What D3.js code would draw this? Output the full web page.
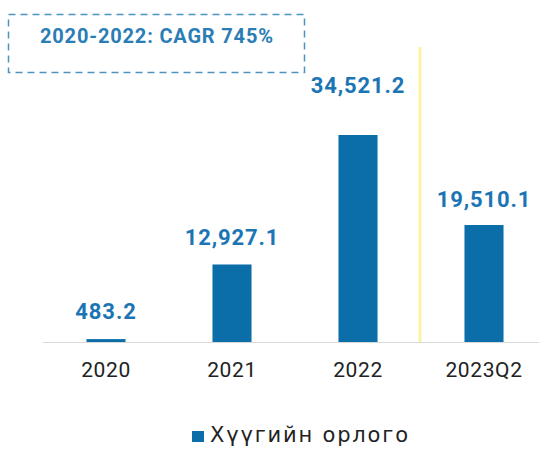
<!DOCTYPE html>
<html>
<head>
<meta charset="utf-8">
<script src="https://cdn.jsdelivr.net/npm/d3@7"></script>
<style>
  body { margin: 0; background: #fff; }
  text { font-family: Roboto, "Open Sans", sans-serif; }
</style>
</head>
<body>
<svg id="chart" width="539" height="452"></svg>
<script>
// data
const categories = ["2020", "2021", "2022", "2023Q2"];
const values = [483.2, 12927.1, 34521.2, 19510.1];
const valueLabels = ["483.2", "12,927.1", "34,521.2", "19,510.1"];
const seriesName = "Хүүгийн орлого";
const noteText = "2020-2022: CAGR 745%";

const svg = d3.select("#chart");
const baseY = 342;
const barColor = "#0b6ea8";
const labelColor = "#1b75b5";

const x = d3.scaleBand()
    .domain(categories)
    .range([43, 547])
    .paddingInner(0.69)
    .paddingOuter(0.345);

const y = d3.scaleLinear()
    .domain([0, 34521.2])
    .range([baseY, 135]);

// the tallest label sits higher in the original
const labelGap = [20, 19.5, 42, 18.5];

// separator line between annual and quarterly data
svg.append("line")
    .attr("x1", 420).attr("x2", 420)
    .attr("y1", 47).attr("y2", baseY)
    .attr("stroke", "#fbf3a6")
    .attr("stroke-width", 3);

// baseline
svg.append("line")
    .attr("x1", 43).attr("x2", 539)
    .attr("y1", baseY + 0.5).attr("y2", baseY + 0.5)
    .attr("stroke", "#d9d9d9")
    .attr("stroke-width", 1);

// bars
svg.selectAll("rect.bar")
    .data(values)
    .join("rect")
    .attr("class", "bar")
    .attr("x", (d, i) => x(categories[i]))
    .attr("width", x.bandwidth())
    .attr("y", d => Math.min(y(d), baseY - 2))
    .attr("height", d => Math.max(2, baseY - y(d)))
    .attr("fill", barColor);

// value labels
svg.selectAll("text.val")
    .data(values)
    .join("text")
    .attr("class", "val")
    .attr("x", (d, i) => x(categories[i]) + x.bandwidth() / 2)
    .attr("y", (d, i) => y(d) - labelGap[i])
    .attr("text-anchor", "middle")
    .attr("font-size", 22)
    .attr("font-weight", "bold")
    .attr("letter-spacing", 0.9)
    .attr("fill", labelColor)
    .text((d, i) => valueLabels[i]);

// x axis labels
const xAxis = d3.axisBottom(x).tickSize(0).tickPadding(0);
const gx = svg.append("g")
    .attr("transform", `translate(0,${baseY})`)
    .call(xAxis);
gx.select(".domain").remove();
gx.selectAll("text")
    .attr("y", 35)
    .attr("dy", 0)
    .attr("font-size", 21)
    .attr("letter-spacing", 0.6)
    .attr("fill", "#222");

// dashed note box
svg.append("rect")
    .attr("x", 8.5).attr("y", 14.5)
    .attr("width", 296).attr("height", 58)
    .attr("fill", "none")
    .attr("stroke", "#4d93bd")
    .attr("stroke-width", 1.5)
    .attr("stroke-dasharray", "7,5");

svg.append("text")
    .attr("x", 40)
    .attr("y", 43)
    .attr("font-size", 20)
    .attr("font-weight", "bold")
    .attr("fill", "#2a7db5")
    .attr("textLength", 233)
    .attr("lengthAdjust", "spacing")
    .text(noteText);

// legend
const legend = svg.append("g").attr("transform", "translate(192,431)");
legend.append("rect")
    .attr("width", 12).attr("height", 11)
    .attr("fill", barColor);
legend.append("text")
    .attr("x", 18)
    .attr("y", 11)
    .attr("font-size", 21)
    .style("font-family", "'DejaVu Sans', sans-serif")
    .attr("fill", "#222")
    .attr("textLength", 198)
    .attr("lengthAdjust", "spacing")
    .text(seriesName);
</script>
</body>
</html>
